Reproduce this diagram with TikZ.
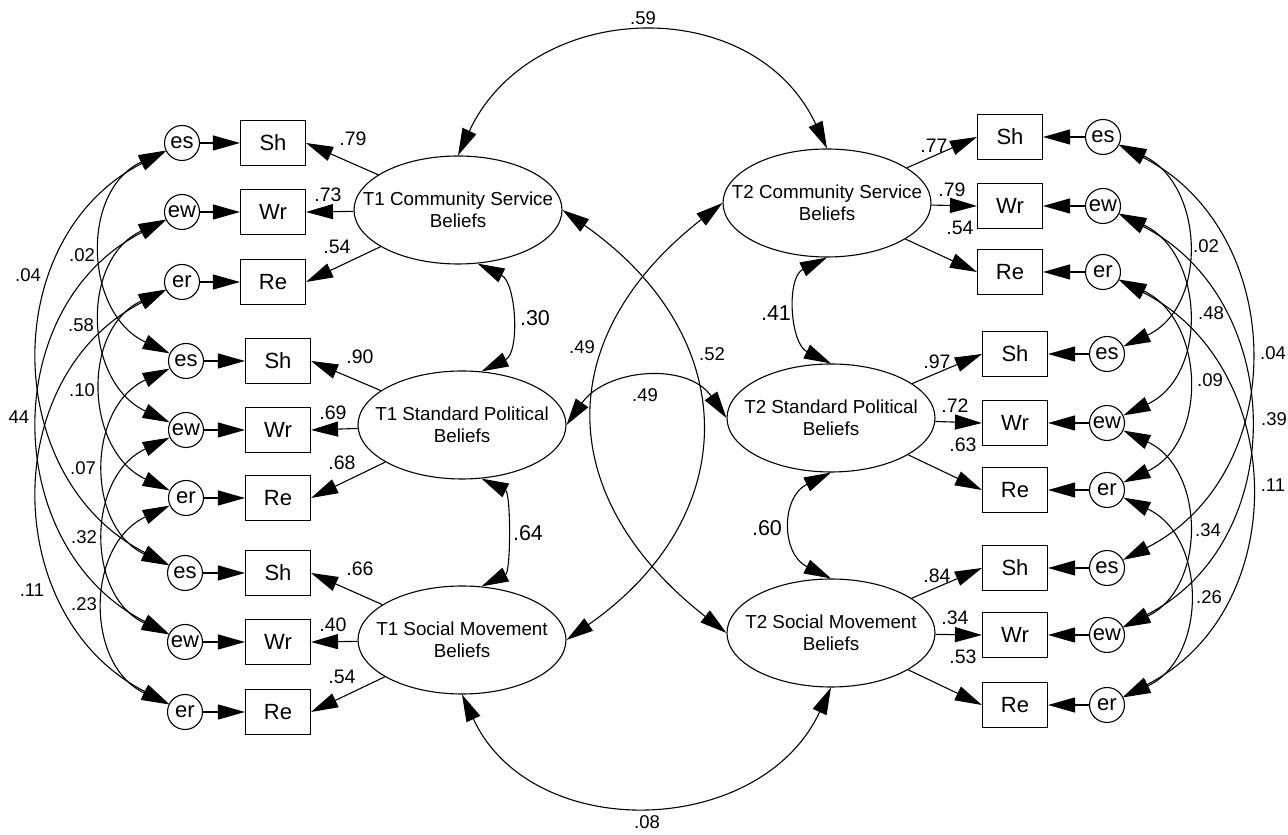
\documentclass[tikz,border=0pt]{standalone}
\usepackage{fontspec}
\setmainfont{Liberation Sans}
\usetikzlibrary{arrows.meta,shapes.geometric}
\newcommand\zw[1]{\makebox[0pt]{#1}}
\begin{document}
\begin{tikzpicture}[x=1pt,y=1pt,line width=1.1pt,
  box/.style={draw,rectangle,minimum width=65pt,minimum height=45pt,inner sep=0pt,font=\fontsize{22}{26}\selectfont},
  res/.style={draw,circle,minimum size=35pt,inner sep=0pt,font=\fontsize{22}{26}\selectfont},
  lat/.style={draw,ellipse,minimum width=208pt,minimum height=108pt,inner sep=0pt,align=center,font=\fontsize{18.8}{22}\selectfont},
  num/.style={inner sep=0pt,font=\fontsize{19.5}{22}\selectfont},
  numb/.style={inner sep=0pt,font=\fontsize{21.5}{24}\selectfont},
  nums/.style={inner sep=0pt,font=\fontsize{18.5}{21}\selectfont},
  arr/.style={-{Triangle[length=27pt,width=15pt]}},
  biarr/.style={{Triangle[length=27pt,width=15pt]}-{Triangle[length=27pt,width=15pt]}},
  inl/.style={biarr,out=205,in=155,looseness=1.19},
  outl/.style={biarr,out=207,in=153,looseness=1.17},
  inr/.style={biarr,out=-25,in=25,looseness=1.19},
  outr/.style={biarr,out=-27,in=27,looseness=1.17}]
\useasboundingbox (0,0) rectangle (1288,835);
\fill[white] (0,0) rectangle (1288,835);
% latent variables
\node[lat] (T1CS) at (458,625) {\zw{T1 Community Service}\\\zw{Beliefs}};
\node[lat] (T1SP) at (462,410) {\zw{T1 Standard Political}\\\zw{Beliefs}};
\node[lat] (T1SM) at (462,195) {\zw{T1 Social Movement}\\\zw{Beliefs}};
\node[lat] (T2CS) at (827,632) {\zw{T2 Community Service}\\\zw{Beliefs}};
\node[lat] (T2SP) at (831,417) {\zw{T2 Standard Political}\\\zw{Beliefs}};
\node[lat] (T2SM) at (831,202) {\zw{T2 Social Movement}\\\zw{Beliefs}};
% left observed
\node[box] (L1s) at (273,692) {Sh};
\node[box] (L1w) at (273,623) {Wr};
\node[box] (L1r) at (273,553) {Re};
\node[box] (L2s) at (278,474) {Sh};
\node[box] (L2w) at (278,405) {Wr};
\node[box] (L2r) at (278,337) {Re};
\node[box] (L3s) at (278,262) {Sh};
\node[box] (L3w) at (278,193) {Wr};
\node[box] (L3r) at (278,123) {Re};
% left residuals
\node[res] (c1s) at (182,692) {es};
\node[res] (c1w) at (182,623) {ew};
\node[res] (c1r) at (182,553) {er};
\node[res] (c2s) at (186,474) {es};
\node[res] (c2w) at (186,405) {ew};
\node[res] (c2r) at (186,337) {er};
\node[res] (c3s) at (185,262) {es};
\node[res] (c3w) at (185,193) {ew};
\node[res] (c3r) at (185,123) {er};
% right observed
\node[box] (R1s) at (1010,698) {Sh};
\node[box] (R1w) at (1010,629) {Wr};
\node[box] (R1r) at (1010,563) {Re};
\node[box] (R2s) at (1015,481) {Sh};
\node[box] (R2w) at (1015,412) {Wr};
\node[box] (R2r) at (1015,345) {Re};
\node[box] (R3s) at (1015,267) {Sh};
\node[box] (R3w) at (1015,200) {Wr};
\node[box] (R3r) at (1015,130) {Re};
% right residuals
\node[res] (d1s) at (1103,698) {es};
\node[res] (d1w) at (1103,629) {ew};
\node[res] (d1r) at (1103,563) {er};
\node[res] (d2s) at (1107,481) {es};
\node[res] (d2w) at (1107,412) {ew};
\node[res] (d2r) at (1107,345) {er};
\node[res] (d3s) at (1107,267) {es};
\node[res] (d3w) at (1107,200) {ew};
\node[res] (d3r) at (1107,130) {er};
% residual to indicator
\foreach \g in {1,2,3}{
  \foreach \t in {s,w,r}{
    \draw[arr] (c\g\t) -- (L\g\t);
    \draw[arr] (d\g\t) -- (R\g\t);
  }}
% loadings
\foreach \t in {s,w,r}{
  \draw[arr] (T1CS) -- (L1\t.east);
  \draw[arr] (T1SP) -- (L2\t.east);
  \draw[arr] (T1SM) -- (L3\t.east);
  \draw[arr] (T2CS) -- (R1\t.west);
  \draw[arr] (T2SP) -- (R2\t.west);
  \draw[arr] (T2SM) -- (R3\t.west);
}
% residual covariances
\foreach \t in {s,w,r}{
  \draw[inl] (c1\t) to (c2\t);
  \draw[inl] (c2\t) to (c3\t);
  \draw[outl] (c1\t) to (c3\t);
  \draw[inr] (d1\t) to (d2\t);
  \draw[outr] (d1\t) to (d3\t);
}
\draw[inr] (d2w) to (d3w);
\draw[inr] (d2r) to (d3r);
% factor covariances
\draw[biarr] (T1CS.north) to[out=65,in=115,looseness=1.2] (T2CS.north);
\draw[biarr] (T1SM.south) to[out=-65,in=-115,looseness=1.15] (T2SM.south);
\draw[biarr] (T1CS.290) to[out=-26,in=26,looseness=1.02] (T1SP.70);
\draw[biarr] (T1SP.290) to[out=-26,in=26,looseness=0.78] (T1SM.70);
\draw[biarr] (T2CS.south) to[out=206,in=154,looseness=1.1] (T2SP.north);
\draw[biarr] (T2SP.south) to[out=206,in=154,looseness=1.35] (T2SM.north);
\draw[biarr] (T1CS.east) to[out=-35,in=35,looseness=1.3] (T1SM.east);
\draw[biarr] (T2CS.west) to[out=218,in=142,looseness=1.3] (T2SM.west);
\draw[biarr] (T1SP.east) to[out=55,in=125,looseness=1.1] (T2SP.west);
% loading labels
\node[num] (a1) at (353,696) {.79};
\node[num] (a2) at (328,640) {.73};
\node[num] (a3) at (337,588) {.54};
\node[num] (a4) at (360,478) {.90};
\node[num] (a5) at (333,422) {.69};
\node[num] (a6) at (342,372) {.68};
\node[num] (a7) at (360,266) {.66};
\node[num] (a8) at (333,210) {.40};
\node[num] (a9) at (342,158) {.54};
\node[num] (b1) at (934,689) {.77};
\node[num] (b2) at (952,645) {.79};
\node[num] (b3) at (960,607) {.54};
\node[num] (b4) at (937,473) {.97};
\node[num] (b5) at (955,429) {.72};
\node[num] (b6) at (963,390) {.63};
\node[num] (b7) at (937,259) {.84};
\node[num] (b8) at (955,217) {.34};
\node[num] (b9) at (963,178) {.53};
% factor covariance labels
\node[numb] (f1) at (535,517) {.30};
\node[numb] (f2) at (528,302) {.64};
\node[numb] (f3) at (776,522) {.41};
\node[numb] (f4) at (767,307) {.60};
\node[nums] (f5) at (582,488) {.49};
\node[nums] (f6) at (712,481) {.52};
\node[nums] (f7) at (645,440) {.49};
\node[nums] (f8) at (643,817) {.59};
\node[nums] (f9) at (647,13) {.08};
% residual covariance labels left
\node[nums] (e1) at (28,560) {.04};
\node[nums] (e2) at (82,580) {.02};
\node[nums] (e3) at (81,510) {.58};
\node[nums] (e4) at (82,445) {.10};
\node[nums] (e5) at (19,418) {44};
\node[nums] (e6) at (83,367) {.07};
\node[nums] (e7) at (84,298) {.32};
\node[nums] (e8) at (32,245) {.11};
\node[nums] (e9) at (84,231) {.23};
% residual covariance labels right
\node[nums] (g1) at (1206,589) {.02};
\node[nums] (g2) at (1211,522) {.48};
\node[nums] (g3) at (1210,455) {.09};
\node[nums] (g4) at (1273,482) {.04};
\node[nums] (g5) at (1274,416) {.39};
\node[nums] (g6) at (1273,350) {.11};
\node[nums] (g7) at (1208,305) {.34};
\node[nums] (g8) at (1209,238) {.26};
\end{tikzpicture}
\end{document}
